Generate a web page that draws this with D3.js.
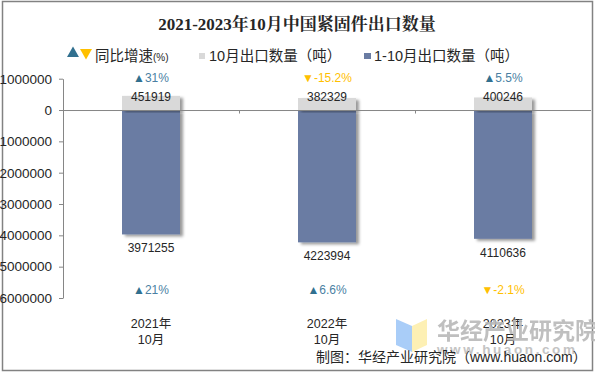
<!DOCTYPE html>
<html>
<head>
<meta charset="utf-8">
<script src="https://cdn.jsdelivr.net/npm/d3@7"></script>
<style>
html,body{margin:0;padding:0;background:#fff;}
svg{display:block;}
text{font-family:"Liberation Sans","Noto Sans CJK SC",sans-serif;fill:#262626;}
</style>
</head>
<body>
<div id="content"></div>
<script>
const categories = ["2021年", "2022年", "2023年"];
const catMonth = "10月";
const octValues = [451919, 382329, 400246];
const ytdValues = [3971255, 4223994, 4110636];
const octGrowth = [31, -15.2, 5.5];
const ytdGrowth = [21, 6.6, -2.1];
const yTicks = [-1000000, 0, 1000000, 2000000, 3000000, 4000000, 5000000, 6000000];

const W = 595, H = 374;
const margin = { left:63, right:4, top:78.7, bottom:76 };
const blue = "#6a7ca3", grey = "#d9d9d9", up = "#31708f", down = "#ffc000", axisCol = "#868686";

const svg = d3.select("#content").append("svg")
    .attr("width", W)
    .attr("height", H);

const defs = svg.append("defs");
const shadow = defs.append("filter").attr("id","barShadow")
    .attr("x","-20%").attr("y","-20%").attr("width","140%").attr("height","140%");
shadow.append("feDropShadow")
    .attr("dx",3).attr("dy",2).attr("stdDeviation",1.8)
    .attr("flood-color","#000").attr("flood-opacity",0.4);

svg.append("rect")     // outer frame
    .attr("x",2.5).attr("y",1.5)
    .attr("width",W-5).attr("height",H-5)
    .attr("fill","#fff").attr("stroke","#828282").attr("stroke-width",1.5);

// title
svg.append("text")
    .attr("x",297).attr("y",30)
    .attr("text-anchor","middle")
    .attr("font-size",17).attr("font-weight","bold")
    .style("font-family",'"Liberation Serif","Noto Serif CJK SC","Noto Sans CJK SC",serif')
    .text("2021-2023年10月中国紧固件出口数量");

const xScale = d3.scaleBand()
    .domain(categories)
    .range([margin.left, W-margin.right]);
const barW = 58;
const cx = d => xScale(d) + xScale.bandwidth()/2;

const yScale = d3.scaleLinear()
    .domain([-1000000, 6000000])
    .range([margin.top, H-margin.bottom]);

// bars
const bars = svg.append("g");
bars.selectAll(".ytd").data(categories).enter().append("rect")
    .attr("class","ytd")
    .attr("x", d => cx(d)-barW/2)
    .attr("width", barW)
    .attr("y", yScale(0))
    .attr("height", (d,i) => yScale(ytdValues[i])-yScale(0))
    .attr("fill", blue)
    .attr("filter","url(#barShadow)");
bars.selectAll(".oct").data(categories).enter().append("rect")
    .attr("class","oct")
    .attr("x", d => cx(d)-barW/2)
    .attr("width", barW)
    .attr("y", (d,i) => yScale(-octValues[i]))
    .attr("height", (d,i) => yScale(0)-yScale(-octValues[i]))
    .attr("fill", grey)
    .attr("filter","url(#barShadow)");

// y axis
const yAxis = svg.append("g")
    .attr("transform","translate("+margin.left+",0)")
    .call(d3.axisLeft(yScale).tickValues(yTicks).tickFormat(d => Math.abs(d)).tickSize(4).tickPadding(7).tickSizeOuter(0));
yAxis.selectAll("path,line").attr("stroke",axisCol);
yAxis.selectAll("text").attr("font-size",13.5).style("font-family",'"Liberation Sans",sans-serif');

// zero line, with small ticks between the categories
svg.append("line")
    .attr("x1",margin.left).attr("x2",W-margin.right)
    .attr("y1",yScale(0)+0.5).attr("y2",yScale(0)+0.5)
    .attr("stroke",axisCol);
svg.selectAll(".catTick").data(categories.slice(1)).enter().append("line")
    .attr("x1", d => Math.round(xScale(d))+0.5).attr("x2", d => Math.round(xScale(d))+0.5)
    .attr("y1",yScale(0)+1).attr("y2",yScale(0)+3.5)
    .attr("stroke",axisCol);

// value labels
const octY = [101, 101, 101], ytdY = [252, 259.5, 257];
svg.selectAll(".octLabel").data(categories).enter().append("text")
    .attr("x",cx).attr("y",(d,i)=>octY[i])
    .attr("text-anchor","middle").attr("font-size",12)
    .text((d,i)=>octValues[i]);
svg.selectAll(".ytdLabel").data(categories).enter().append("text")
    .attr("x",cx).attr("y",(d,i)=>ytdY[i])
    .attr("text-anchor","middle").attr("font-size",12)
    .text((d,i)=>ytdValues[i]);

// growth labels
function growth(values, y){
    const g = svg.selectAll(null).data(categories).enter().append("text")
        .attr("x",cx).attr("y",y)
        .attr("text-anchor","middle").attr("font-size",12)
        .style("fill",(d,i)=> values[i] < 0 ? down : "#4a7fa3");
    g.append("tspan")
        .style("fill",(d,i)=> values[i] < 0 ? down : up)
        .text((d,i)=> values[i] < 0 ? "▼" : "▲");
    g.append("tspan").text((d,i)=> values[i]+"%");
}
growth(octGrowth, 82);
growth(ytdGrowth, 294);

// category labels
svg.selectAll(".cat").data(categories).enter().append("text")
    .attr("x",cx).attr("y",328)
    .attr("text-anchor","middle").attr("font-size",12.5)
    .text(d=>d);
svg.selectAll(".mon").data(categories).enter().append("text")
    .attr("x",cx).attr("y",344)
    .attr("text-anchor","middle").attr("font-size",12.5)
    .text(catMonth);

// legend
const sym = d3.symbol().type(d3.symbolTriangle).size(62);
svg.append("path").attr("d",sym).attr("transform","translate(73,53.5)").attr("fill",up);
svg.append("path").attr("d",sym).attr("transform","translate(86,52.5) rotate(180)").attr("fill",down);
svg.append("text").attr("x",95).attr("y",61).attr("font-size",14.5).text("同比增速");
svg.append("text").attr("x",153).attr("y",60.5).attr("font-size",10).text("(%)");
svg.append("rect").attr("x",199).attr("y",53).attr("width",6).attr("height",6).attr("fill",grey);
svg.append("text").attr("x",209).attr("y",61).attr("font-size",14.5).text("10月出口数量（吨）");
svg.append("rect").attr("x",364).attr("y",53).attr("width",7).attr("height",6).attr("fill",blue);
svg.append("text").attr("x",374).attr("y",61).attr("font-size",14.5).text("1-10月出口数量（吨）");

// watermark
const wm = svg.append("g");
wm.append("path").attr("d","M396,319 L412,326 L412,352 L396,345 Z").attr("fill","#a9cdf8");
wm.append("path").attr("d","M412,326 L427,319 L427,345 L412,352 Z").attr("fill","#fdf0b4");
wm.append("text").attr("x",437).attr("y",339).attr("font-size",23).attr("font-weight","bold")
    .style("fill","#b9b9b9").attr("opacity",0.9).text("华经产业研究院");
wm.append("text").attr("x",437).attr("y",354).attr("font-size",13.5).attr("font-weight","bold")
    .attr("letter-spacing",2.6).style("fill","#c4c4c4").text("www.huaon.com");
svg.selectAll(".cat,.mon").raise();

// source
svg.append("text").attr("x",316).attr("y",362).attr("font-size",14).text("制图：华经产业研究院（www.huaon.com）");
</script>
</body>
</html>
